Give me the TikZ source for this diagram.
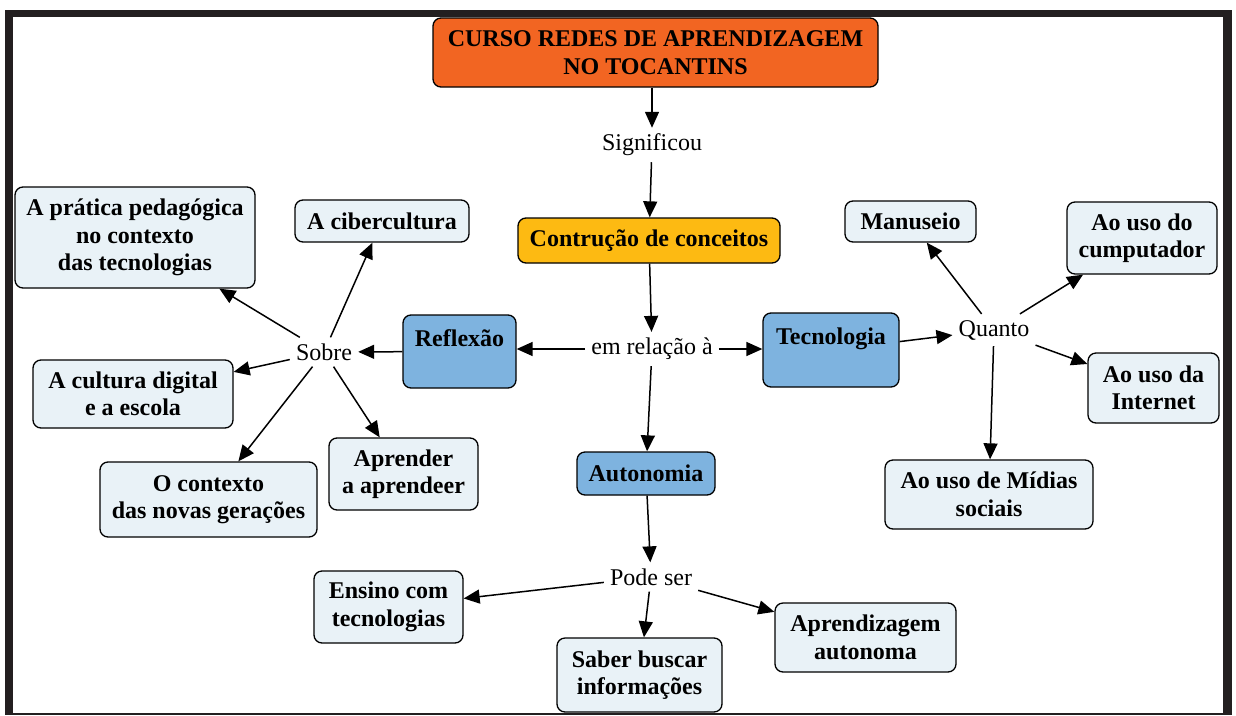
\documentclass[tikz,border=0pt]{standalone}
\usepackage{fontspec}
\setmainfont{LiberationSerif}[Extension=.ttf, UprightFont=*-Regular, BoldFont=*-Bold, ItalicFont=*-Italic, BoldItalicFont=*-BoldItalic]
\usetikzlibrary{arrows.meta}
\definecolor{framec}{HTML}{231F20}
\definecolor{orangec}{HTML}{F26522}
\definecolor{yellowc}{HTML}{FDBA12}
\definecolor{bluec}{HTML}{7EB3DF}
\definecolor{lightc}{HTML}{E9F2F7}
\begin{document}
\begin{tikzpicture}[x=1pt,y=-1pt,
  box/.style={draw=black, line width=1.3pt, rounded corners=8pt, inner sep=0pt, align=center,
              font=\fontsize{24}{27.5}\selectfont\bfseries},
  lightbox/.style={box, fill=lightc},
  bluebox/.style={box, fill=bluec},
  lbl/.style={inner sep=6pt, font=\fontsize{24}{27.5}\selectfont},
  arr/.style={-{Triangle[length=16pt,width=14pt]}, line width=1.5pt}]
\useasboundingbox (0,0) rectangle (1236,715);
\fill[framec] (5,10) rectangle (1232,715);
\fill[white] (13.3,17.3) rectangle (1222.7,712.8);

% main column
\node[box, fill=orangec, minimum width=445pt, minimum height=69pt] (title) at (655.5,52.5) {CURSO REDES DE APRENDIZAGEM\\NO TOCANTINS};
\node[lbl] (signif) at (652,145) {Significou};
\node[box, fill=yellowc, minimum width=262pt, minimum height=45pt] (concept) at (649,240.5) {Contrução de conceitos};
\node[lbl] (emrel) at (652,349) {em relação à};
\node[bluebox, minimum width=113pt, minimum height=73pt] (reflexao) at (459.5,351.5) {Reflexão\\\phantom{X}};
\node[bluebox, minimum width=136pt, minimum height=74pt] (tecnologia) at (831,350) {Tecnologia\\\phantom{X}};
\node[bluebox, minimum width=138pt, minimum height=43pt] (autonomia) at (646,473.5) {Autonomia};

% left branch
\node[lbl] (sobre) at (324,352) {Sobre};
\node[lightbox, minimum width=240pt, minimum height=101pt] (pratica) at (135,237.5) {A prática pedagógica\\no contexto\\das tecnologias};
\node[lightbox, minimum width=174pt, minimum height=42pt] (ciber) at (382,221) {A cibercultura};
\node[lightbox, minimum width=200pt, minimum height=68pt] (cultura) at (133,394) {A cultura digital\\e a escola};
\node[lightbox, minimum width=217pt, minimum height=75pt] (contexto) at (208.5,499.5) {O contexto\\das novas gerações};
\node[lightbox, minimum width=149pt, minimum height=72pt] (aprender) at (403.5,474) {Aprender\\a aprendeer};

% right branch
\node[lbl] (quanto) at (994,330) {Quanto};
\node[lightbox, minimum width=131pt, minimum height=41pt] (manuseio) at (910.5,221.5) {Manuseio};
\node[lightbox, minimum width=150pt, minimum height=72pt] (computador) at (1142,238) {Ao uso do\\cumputador};
\node[lightbox, minimum width=131pt, minimum height=70pt] (internet) at (1153.5,388) {Ao uso da\\Internet};
\node[lightbox, minimum width=208pt, minimum height=69pt] (midias) at (989,494.5) {Ao uso de Mídias\\sociais};

% bottom branch
\node[lbl] (pode) at (651,577) {Pode ser};
\node[lightbox, minimum width=149pt, minimum height=72pt] (ensino) at (388.5,607) {Ensino com\\tecnologias};
\node[lightbox, minimum width=165pt, minimum height=74pt] (saber) at (639.5,675) {Saber buscar\\informações};
\node[lightbox, minimum width=181pt, minimum height=69pt] (aprendiz) at (865.5,637.5) {Aprendizagem\\autonoma};

% connectors
\draw[arr] (title.south -| signif) -- (signif);
\draw[arr] (signif) -- (concept);
\draw[arr] (concept) -- (emrel);
\draw[arr] (emrel) -- (emrel -| reflexao.east);
\draw[arr] (emrel) -- (emrel -| tecnologia.west);
\draw[arr] (emrel) -- (autonomia);

\draw[arr] (reflexao) -- (sobre);
\draw[arr] (sobre) -- (pratica);
\draw[arr] (sobre) -- (ciber);
\draw[arr] (sobre) -- (cultura);
\draw[arr] (sobre) -- (contexto);
\draw[arr] (sobre) -- (aprender.123);

\draw[arr] (tecnologia) -- (quanto);
\draw[arr] (quanto) -- (manuseio);
\draw[arr] (quanto) -- (computador);
\draw[arr] (quanto) -- (internet);
\draw[arr] (quanto) -- (midias);

\draw[arr] (autonomia) -- (pode);
\draw[arr] (pode) -- (ensino);
\draw[arr] (pode) -- (saber);
\draw[arr] (pode) -- (aprendiz);
\end{tikzpicture}
\end{document}
